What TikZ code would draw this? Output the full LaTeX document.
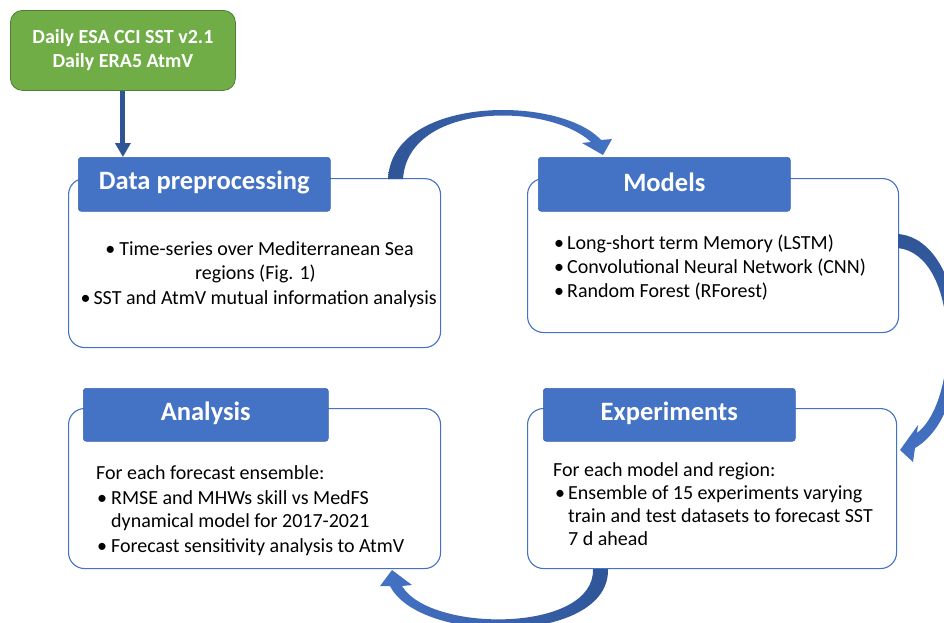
\documentclass[tikz,border=0pt]{standalone}
\usepackage{fontspec}
\setmainfont{Carlito}
\usetikzlibrary{arrows.meta}
\definecolor{accblue}{HTML}{4472C4}
\definecolor{darkblue}{HTML}{2F5597}
\definecolor{hdrline}{HTML}{3A65B0}
\definecolor{accgreen}{HTML}{70AD47}
\definecolor{greenline}{HTML}{507E32}
\tikzset{
  outerbox/.style={draw=accblue, line width=1.1pt, fill=white, rounded corners=16pt, anchor=north west, inner sep=0pt},
  hdrbox/.style={draw=hdrline, line width=0.6pt, fill=accblue, rounded corners=3pt, anchor=north west, inner sep=0pt},
  hdrtext/.style={text=white, font=\fontsize{26.5}{30}\selectfont\bfseries, inner sep=0pt},
  bodytext/.style={font=\fontsize{20}{24}\selectfont, inner sep=0pt, text=black},
  srcbox/.style={draw=greenline, line width=0.8pt, fill=accgreen, rounded corners=12pt, anchor=north west, inner sep=0pt},
}
\newcommand{\bul}[1]{\makebox[#1][l]{•}}
\begin{document}
\begin{tikzpicture}[x=1pt,y=-1pt]
\useasboundingbox (0,0) rectangle (944,622);
\clip (0,0) rectangle (944,622);
\fill[white] (0,0) rectangle (944,622);

% source box
\node[srcbox, minimum width=225pt, minimum height=80pt] (src) at (10,10) {};
\node[text=white, font=\fontsize{20}{24}\selectfont\bfseries, align=center, inner sep=0pt] (srctext) at (src.center) {Daily ESA CCI SST v2.1\\Daily ERA5 AtmV};

% outer boxes
\node[outerbox, minimum width=372pt, minimum height=169pt] (dpbox) at (68,178) {};
\node[outerbox, minimum width=371pt, minimum height=154pt] (mdbox) at (527,178) {};
\node[outerbox, minimum width=372pt, minimum height=160pt] (anbox) at (68,408) {};
\node[outerbox, minimum width=369pt, minimum height=160pt] (exbox) at (527,408) {};

% header boxes
\node[hdrbox, minimum width=252pt, minimum height=54pt] (dphead) at (78,157) {};
\node[hdrbox, minimum width=252pt, minimum height=54pt] (mdhead) at (538,157) {};
\node[hdrbox, minimum width=245pt, minimum height=53pt] (anhead) at (83,388) {};
\node[hdrbox, minimum width=252pt, minimum height=53pt] (exhead) at (543,388) {};

\node[hdrtext] (dpt) at ([yshift=2pt]dphead.center) {Data preprocessing};
\node[hdrtext] (mdt) at ([yshift=2pt]mdhead.center) {Models};
\node[hdrtext] (ant) at ([yshift=2pt]anhead.center) {Analysis};
\node[hdrtext] (ext) at ([yshift=2pt]exhead.center) {Experiments};

% data preprocessing text
\node[bodytext, anchor=base] (dp1) at (259.5,255) {\bul{14pt}Time-series over Mediterranean Sea};
\node[bodytext, anchor=base] (dp2) at (255.5,279) {regions (Fig. 1)};
\node[bodytext, anchor=base east] (dp3) at (437,304) {\bul{13pt}SST and AtmV mutual information analysis};

% models text
\node[bodytext, anchor=base west] (md1) at (554,249) {\bul{13pt}Long-short term Memory (LSTM)};
\node[bodytext, anchor=base west] (md2) at (554,273) {\bul{13pt}Convolutional Neural Network (CNN)};
\node[bodytext, anchor=base west] (md3) at (554,297) {\bul{13pt}Random Forest (RForest)};

% analysis text
\node[bodytext, anchor=base west] (an0) at (96,479) {For each forecast ensemble:};
\node[bodytext, anchor=base west] (an1) at (97,504) {\bul{14pt}RMSE and MHWs skill vs MedFS};
\node[bodytext, anchor=base west] (an2) at (111,527) {dynamical model for 2017-2021};
\node[bodytext, anchor=base west] (an3) at (97,552) {\bul{14pt}Forecast sensitivity analysis to AtmV};

% experiments text
\node[bodytext, anchor=base west] (ex0) at (553,476) {For each model and region:};
\node[bodytext, anchor=base west] (ex1) at (555,499) {\bul{13pt}Ensemble of 15 experiments varying};
\node[bodytext, anchor=base west] (ex2) at (568,522) {train and test datasets to forecast SST};
\node[bodytext, anchor=base west] (ex3) at (568,545) {7 d ahead};

% straight arrow
\draw[darkblue, line width=5pt, -{Triangle[width=15pt,length=14pt]}] (src.south) -- (src.south |- dphead.north);

% curved block arrows
\shade[left color=darkblue, right color=accblue]
  (388,179) .. controls (392,95) and (560,95) .. (601,140)
  -- (612,139) -- (603,155) -- (582,143) -- (591,142)
  .. controls (548,102) and (408,102) .. (403,179) -- cycle;

\shade[top color=darkblue, bottom color=accblue]
  (898,234) .. controls (970,240) and (980,410) .. (915,448)
  -- (913,462) -- (900,450) -- (918,425) -- (917,433)
  .. controls (960,400) and (960,255) .. (898,248) -- cycle;

\shade[right color=darkblue, left color=accblue]
  (608,569) .. controls (610,645) and (420,645) .. (390,586)
  -- (380,586) -- (392,570) -- (412,585) -- (402,586)
  .. controls (430,633) and (595,633) .. (593,569) -- cycle;
\end{tikzpicture}
\end{document}
